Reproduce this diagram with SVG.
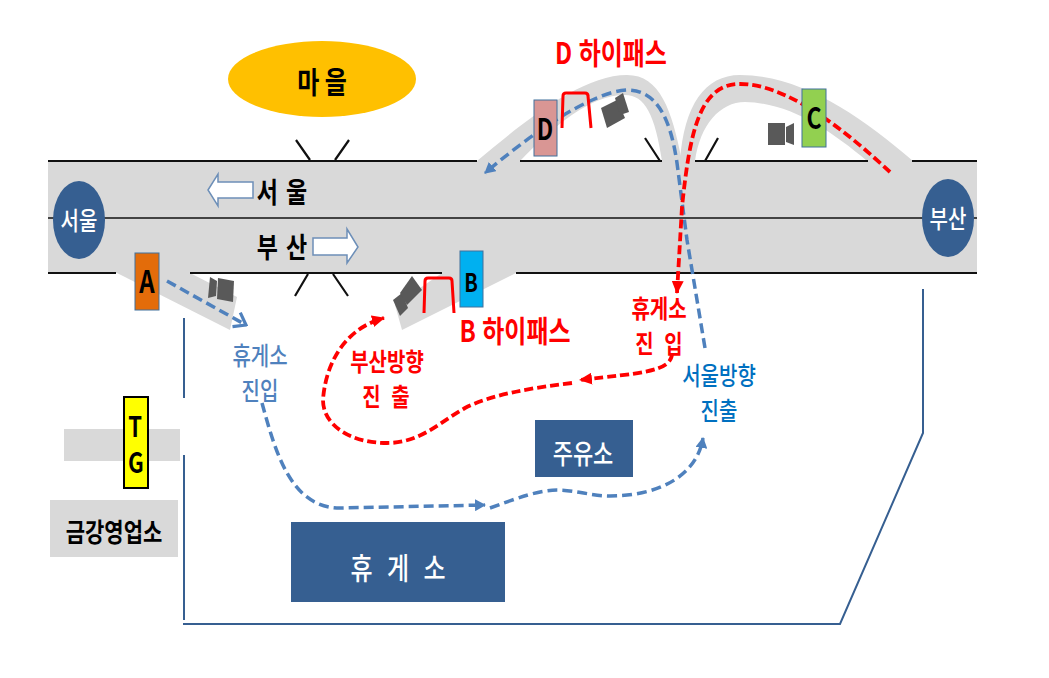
<svg xmlns="http://www.w3.org/2000/svg" width="1049" height="678" viewBox="0 0 1049 678">
<style>
text{font-family:"Noto Sans CJK KR","Liberation Sans",sans-serif;font-weight:700;text-anchor:middle}
.lbl{font-weight:500}
.blk{fill:#000}.red{fill:#f00}.wht{fill:#fff;font-weight:500}
.road{fill:#d9d9d9}
.ln{stroke:#111;stroke-width:2.2;fill:none}
.nv{stroke:#365f91;stroke-width:2;fill:none}
.dr{stroke:#f00;stroke-width:3.8;fill:none;stroke-dasharray:9 4}
.db{stroke:#4f81bd;stroke-width:3.5;fill:none;stroke-dasharray:10 5}
.hp{stroke:#f00;stroke-width:3;fill:none;stroke-linejoin:round}
.bx{stroke:#41719c;stroke-width:1}
.cam{fill:#595959}
.arr{fill:#fff;stroke:#6d8fb8;stroke-width:1.5}
</style>
<defs>
<marker id="ar" markerUnits="userSpaceOnUse" markerWidth="13" markerHeight="12" refX="12" refY="6" orient="auto"><path d="M0 0L13 6L0 12z" fill="#f00"/></marker>
<marker id="ab" markerUnits="userSpaceOnUse" markerWidth="11" markerHeight="12" refX="10" refY="6" orient="auto"><path d="M0 0L11 6L0 12z" fill="#4f81bd"/></marker>
<marker id="abo" markerUnits="userSpaceOnUse" markerWidth="16" markerHeight="20" refX="14" refY="10" orient="auto"><path d="M3 2L14 10L3 18" fill="none" stroke="#4f81bd" stroke-width="3.200"/></marker>
</defs>
<g id="roads">
<rect class="road" x="48" y="161" width="929" height="112"/>
<path class="road" d="M117 273L230 330L237 297L190 273Z"/>
<path class="road" d="M442 273L395 305L402 330L516 273Z"/>
<path class="road" d="M477 161C520 125 580 75 627 75C660 75 672 110 682 161H662C655 115 645 95 625 95C590 95 555 125 520 161Z"/>
<path class="road" d="M680 161C684 105 705 75 740 75C800 75 860 115 913 161H867C830 130 790 103 745 102C720 102 700 125 695 161Z"/>
</g>
<g id="road-lines">
<path class="ln" d="M48 161H477M520 161H662M695 161H868M912 161H977"/>
<path class="ln" style="stroke-width:1.500" d="M48 218H977"/>
<path class="ln" d="M48 273H116M190 273H442M516 273H977"/>
<path class="ln" d="M310 160L296 140M335 160L349 140M308 274L295 296M333 274L348 296M660 161L645 138M705 161L718 138"/>
</g>
<g id="outline">
<path class="nv" d="M184 318V398M184 455V620M183 624H840L923 433V289"/>
</g>
<g id="connectors">
<path class="db" d="M167 281L246 325" marker-end="url(#abo)"/>
<path class="db" d="M262 403C275 450 290 508 340 508L485 505" marker-end="url(#ab)"/>
<path class="db" d="M490 508C520 497 540 490 557 490C575 490 592 496 610 496C660 496 697 475 703 438" marker-end="url(#ab)"/>
<path class="db" d="M705 348L687 240L677 163C670 115 655 90 627 90C590 92 530 135 485 173" marker-end="url(#ab)"/>
<path class="dr" d="M890 172C850 135 790 84 740 84C700 84 690 130 682 207L677 293" marker-end="url(#ar)"/>
<path class="dr" d="M672 353C672 372 640 373 580 380" marker-end="url(#ar)"/>
<path class="dr" d="M572 383C530 388 490 395 465 408C440 422 420 443 387 443C350 443 323 425 323 400C325 370 340 330 384 318" marker-end="url(#ar)"/>
</g>
<g id="hipass-d"><path class="hp" d="M562 128L563 96Q563 93 566 93H585Q588 93 588 96L591 128"/></g>
<g id="hipass-b"><path class="hp" d="M424 313L425 281Q425 278 428 278H449Q452 278 452 281L454 313"/></g>
<g id="cam-a" class="cam"><path d="M208 298L210 277L217 281L216 296Z"/><path d="M218 278L234 281L233 302L217 299Z"/></g>
<g id="cam-b" class="cam"><path d="M393 300L402 293L408 308L400 316Z"/><path d="M400 293L412 276L422 290L407 305Z"/></g>
<g id="cam-d" class="cam"><path d="M601 108L617 100L625 118L607 128Z"/><path d="M615 98L623 93L629 112L620 115Z"/></g>
<g id="cam-c" class="cam"><rect x="768" y="123" width="17" height="22"/><path d="M786 127L794 123V145L786 142Z"/></g>
<g id="village"><ellipse cx="322" cy="79" rx="94" ry="38" fill="#ffc000"/><text class="blk" transform="matrix(1 0 0 1.25 322 93)" font-size="24">마 을</text></g>
<g id="seoul-node"><ellipse cx="79" cy="220" rx="26" ry="39" fill="#365f91"/><text class="wht" transform="matrix(1 0 0 1.25 79 230)" font-size="20">서울</text></g>
<g id="busan-node"><ellipse cx="948" cy="218" rx="26" ry="39" fill="#365f91"/><text class="wht" transform="matrix(1 0 0 1.25 948 228)" font-size="20">부산</text></g>
<g id="dir-seoul"><path class="arr" d="M208 190L218 174V182H253V198H218V206Z"/><text class="blk" word-spacing="3" transform="matrix(1 0 0 1.25 282 203)" font-size="23">서 울</text></g>
<g id="dir-busan"><text class="blk" word-spacing="3" transform="matrix(1 0 0 1.25 282 258)" font-size="23">부 산</text><path class="arr" d="M313 238H347V229L358 247L347 263V255H313Z"/></g>
<g id="gate-a"><rect class="bx" x="135" y="253" width="24" height="57" fill="#e36c0a"/><text class="blk" transform="matrix(1 0 0 1.3 147 293)" font-size="24">A</text></g>
<g id="gate-b"><rect class="bx" x="460" y="251" width="23" height="56" fill="#00b0f0"/><text class="blk" transform="matrix(1 0 0 1.3 471 292)" font-size="20">B</text></g>
<g id="gate-c"><rect class="bx" x="802" y="89" width="24" height="58" fill="#92d050"/><text class="blk" transform="matrix(1 0 0 1.3 814 129)" font-size="23">C</text></g>
<g id="gate-d"><rect class="bx" x="534" y="100" width="23" height="56" fill="#d99694"/><text class="blk" transform="matrix(1 0 0 1.3 545 140)" font-size="23">D</text></g>
<g id="tg"><rect x="64" y="429" width="116" height="32" fill="#d9d9d9"/><rect x="124" y="397" width="24" height="91" fill="#ff0" stroke="#000" stroke-width="2"/><text class="blk" transform="matrix(1 0 0 1.25 135 437)" font-size="22">T</text><text class="blk" transform="matrix(1 0 0 1.25 136 473)" font-size="22">G</text></g>
<g id="office"><rect x="50" y="500" width="128" height="57" fill="#d9d9d9"/><text class="blk" transform="matrix(1 0 0 1.25 114 542)" font-size="21">금강영업소</text></g>
<g id="gas"><rect x="535" y="420" width="98" height="57" fill="#365f91"/><text class="wht" transform="matrix(1 0 0 1.25 583 464)" font-size="22">주유소</text></g>
<g id="rest"><rect x="291" y="522" width="214" height="80" fill="#365f91"/><text class="wht" word-spacing="9" transform="matrix(1 0 0 1.25 398 579)" font-size="24">휴 게 소</text></g>
<g id="labels">
<text class="red" transform="matrix(1 0 0 1.25 611 64)" font-size="24" word-spacing="1">D 하이패스</text>
<text class="red" transform="matrix(1 0 0 1.25 515 342)" font-size="24" word-spacing="1">B 하이패스</text>
<text class="red" transform="matrix(1 0 0 1.25 659 318)" font-size="20">휴게소</text>
<text class="red" word-spacing="6" transform="matrix(1 0 0 1.25 659 353)" font-size="20">진  입</text>
<text class="red" transform="matrix(1 0 0 1.25 387 371)" font-size="20">부산방향</text>
<text class="red" word-spacing="6" transform="matrix(1 0 0 1.25 386 406)" font-size="20">진  출</text>
<text class="lbl" fill="#4f81bd" transform="matrix(1 0 0 1.25 260 365)" font-size="20">휴게소</text>
<text class="lbl" fill="#4f81bd" transform="matrix(1 0 0 1.25 260 400)" font-size="20">진입</text>
<text class="lbl" fill="#0070c0" transform="matrix(1 0 0 1.25 719 385)" font-size="20">서울방향</text>
<text class="lbl" fill="#0070c0" transform="matrix(1 0 0 1.25 719 420)" font-size="20">진출</text>
</g>
</svg>
